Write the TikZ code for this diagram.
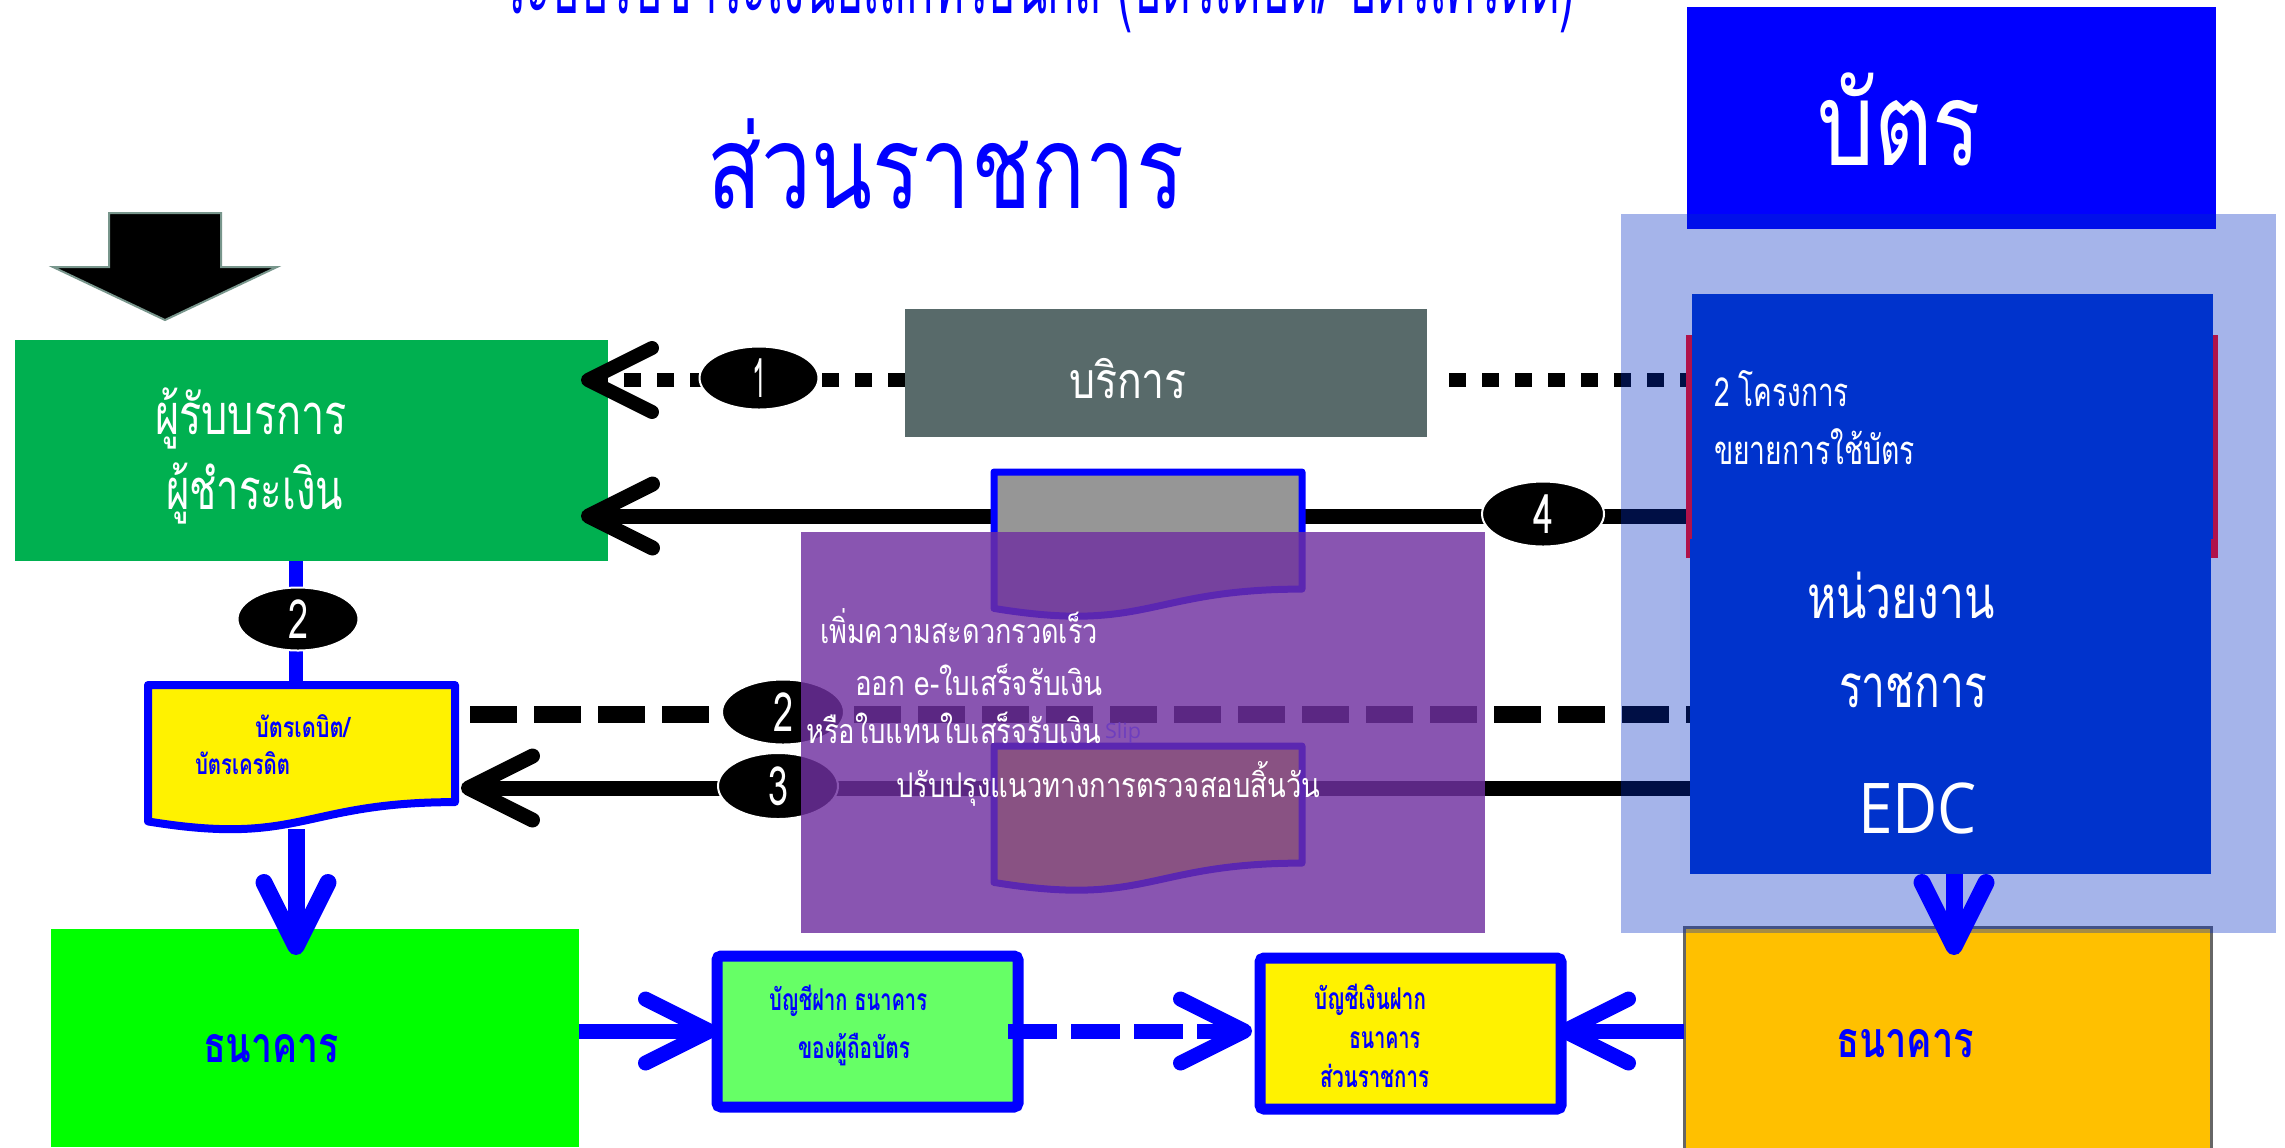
\documentclass[tikz,border=0pt]{standalone}
\usepackage{fontspec}
\usepackage{graphicx}
\newfontfamily\thaifont[Script=Thai]{Loma}
\newfontfamily\latinfont{Open Sans}
\usetikzlibrary{shapes.geometric,arrows.meta,fit,calc}
\definecolor{pblue}{RGB}{0,0,255}
\definecolor{pgreen}{RGB}{0,176,80}
\definecolor{slate}{RGB}{88,106,106}
\definecolor{docgray}{RGB}{150,150,150}
\definecolor{ppurple}{RGB}{112,48,160}
\definecolor{regblue}{RGB}{0,45,198}
\definecolor{dblue}{RGB}{0,51,204}
\definecolor{crimson}{RGB}{176,18,74}
\definecolor{limeg}{RGB}{0,255,0}
\definecolor{lgreen}{RGB}{102,255,102}
\definecolor{orangey}{RGB}{255,192,0}
\definecolor{arrowedge}{RGB}{120,150,140}
\definecolor{slipc}{RGB}{110,62,190}
\newcommand\fs[1]{\fontsize{#1pt}{#1pt}\selectfont}
\newcommand\tw[2]{\resizebox{#1pt}{\height}{#2}}
\begin{document}
\begin{tikzpicture}[x=0.5pt,y=-0.5pt,
  box/.style={inner sep=0pt, outer sep=0pt},
  txt/.style={inner sep=0pt, outer sep=0pt, anchor=base west},
  num/.style={ellipse, fill=black, draw=white, line width=1pt, inner sep=0pt, text=white},
  chev/.tip={Straight Barb[length=32pt,width=32pt,round]},
  blk/.style={line width=7.5pt, black},
  dotl/.style={line width=7pt, black, dash pattern=on 8.5pt off 8pt},
  dashl/.style={line width=8.5pt, black, dash pattern=on 23.5pt off 8.5pt},
  bl/.style={line width=7.5pt, pblue},
  docs/.style={draw=pblue, line width=3.5pt, line join=round}
]
\useasboundingbox (0,0) rectangle (2285,1147);
\fill[white] (0,0) rectangle (2285,1147);

% titles
\node[txt, text=pblue] (tTitle) at (502,13) {\thaifont\fs{46}\tw{536.5}{ระบบรับชำระเงินอิเล็กทรอนิกส์ (บัตรเดบิต/ บัตรเครดิต)}};
\node[txt, text=pblue] (tSuan) at (707,208) {\thaifont\fs{58}\tw{238.5}{ส่วนราชการ}};

% card box
\node[box, fill=pblue, fit={(1687,7)(2216,229)}] (card) {};
\node[txt, text=white] (tCard) at (1817,165) {\thaifont\fs{58}\tw{82}{บัตร}};

% block arrow
\node[box, fit={(53,213)(277,320)}] (bigarrow) {};
\filldraw[fill=black, draw=arrowedge, line width=1pt]
  (109,213) -- (221,213) -- (221,267) -- (277,267) -- (165,320) -- (53,267) -- (109,267) -- cycle;

% payer and service
\node[box, fill=pgreen, fit={(15,340)(608,561)}] (payer) {};
\node[txt, text=white] (tPay1) at (155,434) {\thaifont\fs{28}\tw{96}{ผู้รับบรการ}};
\node[txt, text=white] (tPay2) at (166,509) {\thaifont\fs{28}\tw{88.5}{ผู้ชำระเงิน}};
\node[box, fill=slate, fit={(905,309)(1427,437)}] (service) {};
\node[txt, text=white] (tServ) at (1069,398) {\thaifont\fs{25}\tw{59}{บริการ}};

% coordinates for connectors
\coordinate (y1) at (0,380);
\coordinate (y4) at (0,516);
\coordinate (y2) at (0,714);
\coordinate (y3) at (0,788);
\coordinate (yb) at (0,1031);
\coordinate (vx) at (296,0);
\coordinate (ex) at (1954,0);
\coordinate (edcL) at (1700,0);
\coordinate (tip1) at (581,380);
\coordinate (tip4) at (581,516);
\coordinate (tip3) at (461,788);
\coordinate (d2s) at (470,714);
\coordinate (d1s) at (1449,380);

% lines
\draw[dotl, -{chev[sep=0pt]}] (service.west |- y1) -- (tip1);
\draw[dotl] (d1s) -- (edcL |- y1);
\draw[blk, -{chev}] (edcL |- y4) -- (tip4);
\draw[dashl] (d2s) -- (edcL |- y2);
\draw[blk, -{chev}] (edcL |- y3) -- (tip3);
\draw[line width=7pt, pblue] (payer.south -| vx) -- (vx |- 0,690);

% ellipses
\node[num, minimum width=59.5pt, minimum height=31.5pt] (e1) at (759,378) {\thaifont\fs{27}\tw{7}{1}};
\node[num, minimum width=61pt, minimum height=32.5pt] (e4) at (1543,514) {\thaifont\fs{27}\tw{10}{4}};
\node[num, minimum width=60.5pt, minimum height=31.5pt] (e2v) at (298,619) {\thaifont\fs{27}\tw{10}{2}};
\node[num, minimum width=61pt, minimum height=32.5pt] (e2) at (783,712) {\thaifont\fs{27}\tw{10}{2}};
\node[num, minimum width=60pt, minimum height=33pt] (e3) at (778,786) {\thaifont\fs{27}\tw{10}{3}};

% documents
\node[box, fit={(148,685)(455,829)}] (docL) {};
\filldraw[docs, fill=yellow, line width=4pt] (148,685) -- (455,685) -- (455,802.1)
  .. controls (301.5,802.1) and (301.5,846.7) .. (148,821.4) -- cycle;
\node[txt, text=pblue] (tDeb) at (255,737) {\thaifont\bfseries\fs{14}\tw{47.5}{บัตรเดบิต/}};
\node[txt, text=pblue] (tCred) at (195,774) {\thaifont\bfseries\fs{14}\tw{47.5}{บัตรเครดิต}};

\node[box, fit={(994,472)(1302,615)}] (docT) {};
\filldraw[docs, fill=docgray] (994,472) -- (1302,472) -- (1302,589.1)
  .. controls (1148,589.1) and (1148,633.7) .. (994,608.4) -- cycle;
\node[box, fit={(994,746)(1302,889)}] (docB) {};
\filldraw[docs, fill=yellow] (994,746) -- (1302,746) -- (1302,863.1)
  .. controls (1148,863.1) and (1148,907.7) .. (994,882.4) -- cycle;

% bottom boxes
\node[box, fill=limeg, fit={(51,929)(579,1147)}] (bankL) {};
\node[txt, text=pblue] (tBankL) at (203,1062) {\thaifont\bfseries\fs{25}\tw{68}{ธนาคาร}};
\node[box, fill=lgreen, draw=pblue, line width=5.5pt, rounded corners=2pt, fit={(717,956)(1018,1107)}] (acctH) {};
\node[txt, text=pblue] (tA1) at (769,1010) {\thaifont\bfseries\fs{15}\tw{79}{บัญชีฝาก ธนาคาร}};
\node[txt, text=pblue] (tA2) at (798,1058) {\thaifont\bfseries\fs{15}\tw{56}{ของผู้ถือบัตร}};
\node[box, fill=yellow, draw=pblue, line width=5.5pt, rounded corners=2pt, fit={(1260,958)(1561,1109)}] (acctG) {};
\node[txt, text=pblue] (tB1) at (1314,1009) {\thaifont\bfseries\fs{15}\tw{56}{บัญชีเงินฝาก}};
\node[txt, text=pblue] (tB2) at (1349,1048) {\thaifont\bfseries\fs{15}\tw{35.5}{ธนาคาร}};
\node[txt, text=pblue] (tB3) at (1320,1087) {\thaifont\bfseries\fs{15}\tw{54.5}{ส่วนราชการ}};
\node[box, fill=orangey, draw=black!60, line width=1.5pt, fit={(1684,927)(2211,1150)}] (bankR) {};
\node[txt, text=pblue] (tBankR) at (1836,1057) {\thaifont\bfseries\fs{25}\tw{69}{ธนาคาร}};

% bottom arrows
\draw[bl, line width=8.5pt, -{chev}] (vx |- docL.south) -- ($(bankL.north -| vx)+(0,26)$);
\draw[bl, -{chev}] (bankL.east |- yb) -- (acctH.west |- yb);
\draw[bl, dash pattern=on 24.5pt off 7pt, -{chev[sep=0pt]}] (1008,1031) -- ($(acctG.west |- yb)+(-8,0)$);
\draw[bl, -{chev}] (bankR.west |- yb) -- ($(acctG.east |- yb)+(-4,0)$);

% purple overlay
\node[box, fill=ppurple, fill opacity=0.82, fit={(801,532)(1485,933)}] (improve) {};
\node[txt, text=white] (tP1) at (820,643) {\thaifont\fs{17}\tw{139}{เพิ่มความสะดวกรวดเร็ว}};
\node[txt, text=white] (tP2) at (855,695) {\thaifont\fs{17}\tw{124}{ออก e-ใบเสร็จรับเงิน}};
\node[txt, text=white] (tP3) at (806,743) {\thaifont\fs{17}\tw{147.5}{หรือใบแทนใบเสร็จรับเงิน}};
\node[txt, text=slipc] (tSlip) at (1105,738) {\latinfont\fs{10.5}\tw{18}{Slip}};
\node[txt, text=white] (tP4) at (896,797) {\thaifont\fs{17}\tw{212}{ปรับปรุงแนวทางการตรวจสอบสิ้นวัน}};

% light region
\node[box, fill=regblue, fill opacity=0.353, fit={(1621,214)(2276,933)}] (region) {};

% agency boxes
\node[box, fill=crimson, fit={(1686,335)(2218,558)}] (projframe) {};
\node[box, fill=dblue, fit={(1692,294)(2213,539)}] (proj) {};
\node[txt, text=white] (tProj1) at (1714,406) {\thaifont\fs{20}\tw{67.5}{2 โครงการ}};
\node[txt, text=white] (tProj2) at (1714,464) {\thaifont\fs{20}\tw{100.5}{ขยายการใช้บัตร}};
\node[box, fill=dblue, fit={(1690,539)(2211,874)}] (edc) {};
\node[txt, text=white] (tUnit1) at (1807,618) {\thaifont\fs{30}\tw{94}{หน่วยงาน}};
\node[txt, text=white] (tUnit2) at (1839,707) {\thaifont\fs{30}\tw{74}{ราชการ}};
\node[txt, text=white] (tEDC) at (1858,833) {\latinfont\fs{35}\tw{59.5}{EDC}};

\draw[bl, line width=8.5pt, -{chev}] (edc.south -| ex) -- ($(bankR.north -| ex)+(0,28)$);
\end{tikzpicture}
\end{document}
